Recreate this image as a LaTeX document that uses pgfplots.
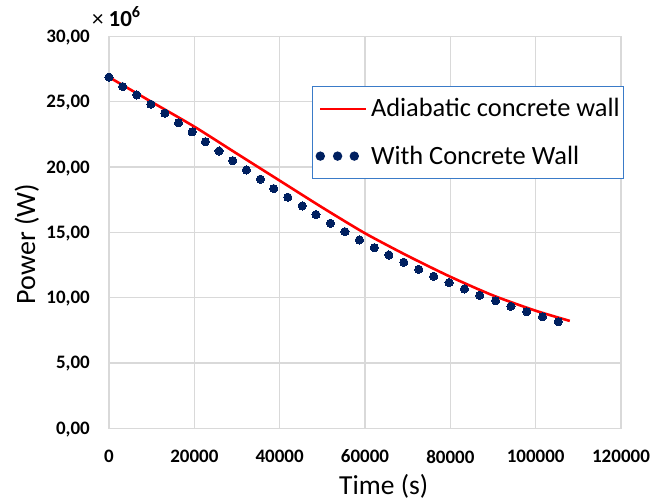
\documentclass[border=0pt]{standalone}
\usepackage{fontspec}
\setmainfont{Carlito}
\usepackage{pgfplots}
\pgfplotsset{compat=1.18}

\definecolor{gridgray}{HTML}{D9D9D9}
\definecolor{navydot}{HTML}{002060}
\definecolor{legendblue}{HTML}{3A7BC8}
\definecolor{curvered}{HTML}{FF0000}

% Power of the adiabatic wall case (s, W)
\pgfplotstableread{
t        p
0        26880000
10000    24980000
20000    23090000
30000    21020000
40000    18960000
50000    16900000
60000    14930000
70000    13200000
80000    11600000
90000    10170000
100000   9000000
108000   8220000
}\adiabatic

% Power with the concrete wall (s, W)
\pgfplotstableread{
t        p
0        26880000
3200     26160000
6500     25520000
9800     24810000
13100    24120000
16300    23380000
19500    22690000
22600    21940000
25800    21230000
29000    20490000
32200    19780000
35500    19070000
38600    18350000
41900    17690000
45300    17020000
48500    16360000
51900    15700000
55300    15050000
58700    14420000
62200    13830000
65600    13270000
69100    12710000
72600    12170000
76100    11640000
79700    11150000
83300    10670000
86900    10180000
90600    9770000
94200    9340000
97900    8930000
101600   8550000
105300   8160000
}\concrete

\begin{document}
\begin{tikzpicture}
\path[use as bounding box] (-109pt,-74.7pt) rectangle (558pt,428.3pt);
\begin{axis}[
  at={(0pt,0pt)}, anchor=south west,
  scale only axis, width=512pt, height=391.9pt,
  xmin=0, xmax=120000, ymin=0, ymax=30000000,
  clip=false,
  xtick={0,20000,40000,60000,80000,100000,120000},
  ytick={0,5000000,10000000,15000000,20000000,25000000,30000000},
  scaled x ticks=false,
  scaled y ticks=base 10:-6,
  ytick scale label code/.code={},
  /pgf/number format/assume math mode=true,
  tick label style={font=\fontsize{19}{19}\selectfont\bfseries, inner sep=0pt},
  xticklabel style={anchor=north, yshift=-21.5pt,
    /pgf/number format/fixed, /pgf/number format/1000 sep={}},
  yticklabel style={anchor=base east, xshift=-19pt, yshift=-6pt,
    /pgf/number format/fixed, /pgf/number format/fixed zerofill,
    /pgf/number format/precision=2, /pgf/number format/use comma},
  major tick length=0pt,
  axis line style={draw=gridgray, line width=1.3pt},
  grid=major,
  grid style={gridgray, line width=1.3pt},
  xlabel={Time (s)},
  ylabel={Power (W)},
  xlabel style={at={(rel axis cs:0.5365,-0.1702)}, anchor=base, inner sep=0pt,
    font=\fontsize{27.5}{27.5}\selectfont},
  ylabel style={at={(rel axis cs:-0.1445,0.4703)}, anchor=base, inner sep=0pt,
    font=\fontsize{28}{28}\selectfont},
  legend cell align=left,
  legend style={at={(rel axis cs:0.3965,0.8735)}, anchor=north west,
    draw=legendblue, line width=1.3pt, fill=white,
    font=\fontsize{26.4}{26.4}\selectfont,
    inner xsep=3pt, inner ysep=10.2pt, row sep=23.3pt, column sep=3.4pt,
    nodes={inner sep=0pt, text height=20pt, text depth=4pt}},
]
\addplot[curvered, line width=2.6pt, smooth, tension=0.4,
  legend image code/.code={
    \path[draw=none, fill=none] (-4pt,-5pt) rectangle (46pt,5pt);
    \draw[curvered, line width=2.6pt] (0pt,0pt) -- (46pt,0pt);}]
  table[x=t, y=p] {\adiabatic};
\addlegendentry{Adiabatic concrete wall\hspace*{1pt}}
\addplot[only marks, mark=*, mark size=4.1pt, navydot,
  mark options={fill=navydot, draw=navydot, line width=0pt},
  legend image code/.code={
    \path[draw=none, fill=none] (-4pt,-5pt) rectangle (46pt,5pt);
    \fill[navydot] (0pt,0pt) circle (4pt) (17.3pt,0pt) circle (4pt) (34pt,0pt) circle (4pt);}]
  table[x=t, y=p] {\concrete};
\addlegendentry{With Concrete Wall}
% power-of-ten factor of the vertical axis
\node[anchor=base west, inner sep=0pt, xshift=-17pt, yshift=9.7pt]
  at (rel axis cs:0,1)
  {\fontsize{23}{23}\selectfont ×\hspace{5pt}\textbf{10\textsuperscript{6}}};
\end{axis}
\end{tikzpicture}
\end{document}
